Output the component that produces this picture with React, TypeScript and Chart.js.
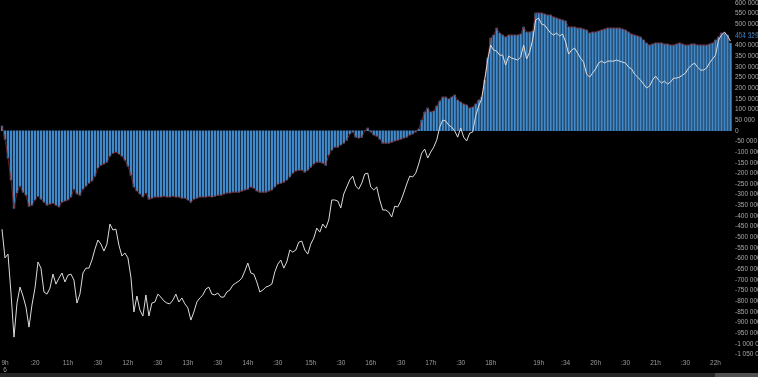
import React, { useEffect, useRef } from 'react';
import { Chart, registerables } from 'chart.js';
Chart.register(...registerables);

// values in thousands
const BAR_K = [
  22, -39, -128, -231, -363, -292, -260, -288, -302, -354,
  -349, -325, -307, -321, -335, -349, -344, -340, -349, -358,
  -335, -330, -325, -311, -274, -297, -302, -274, -260, -246,
  -236, -213, -175, -161, -156, -147, -119, -105, -100, -109,
  -119, -138, -166, -208, -264, -283, -297, -311, -292, -321,
  -316, -311, -311, -311, -307, -311, -311, -307, -311, -311,
  -316, -316, -325, -335, -321, -316, -311, -311, -311, -307,
  -311, -307, -302, -302, -297, -292, -292, -288, -288, -288,
  -283, -278, -274, -264, -269, -283, -288, -288, -288, -283,
  -278, -264, -250, -246, -241, -231, -217, -199, -189, -185,
  -185, -194, -185, -171, -156, -147, -147, -152, -161, -114,
  -91, -77, -77, -67, -58, -44, -15, -6, -30, -34,
  -30, -1, 13, -6, -20, -25, -39, -58, -58, -58,
  -53, -48, -44, -39, -34, -30, -20, -15, -6, 8,
  50, 88, 107, 88, 92, 116, 139, 158, 158, 149,
  158, 168, 144, 135, 125, 121, 107, 111, 125, 144,
  158, 238, 341, 435, 449, 482, 459, 449, 440, 449,
  449, 449, 449, 454, 487, 463, 463, 468, 553, 553,
  553, 548, 543, 543, 534, 529, 524, 520, 515, 487,
  487, 487, 482, 482, 477, 473, 459, 463, 463, 468,
  473, 477, 482, 482, 482, 482, 482, 477, 473, 463,
  454, 449, 445, 440, 426, 412, 402, 407, 412, 412,
  412, 407, 407, 402, 402, 407, 412, 407, 402, 402,
  407, 407, 402, 402, 402, 402, 407, 412, 426, 440,
  459, 459, 449, 410,
];

const LINE_K = [
  -462, -597, -579, -762, -969, -809, -734, -776, -828, -922,
  -818, -739, -616, -645, -757, -767, -739, -673, -720, -692,
  -668, -710, -678, -673, -701, -809, -767, -668, -645, -645,
  -607, -556, -513, -532, -565, -532, -438, -466, -462, -537,
  -588, -574, -597, -687, -851, -776, -842, -870, -771, -870,
  -809, -804, -767, -781, -799, -809, -813, -795, -767, -804,
  -785, -813, -832, -889, -851, -804, -785, -771, -743, -734,
  -767, -771, -762, -781, -781, -757, -748, -725, -715, -706,
  -692, -659, -621, -668, -673, -710, -757, -748, -734, -729,
  -720, -663, -626, -607, -645, -616, -560, -570, -560, -523,
  -518, -560, -579, -532, -504, -457, -476, -438, -457, -419,
  -325, -325, -330, -363, -297, -264, -231, -213, -260, -274,
  -246, -203, -199, -264, -278, -264, -325, -372, -372, -382,
  -405, -354, -358, -330, -292, -250, -213, -217, -199, -156,
  -105, -86, -128, -100, -77, -44, 17, 50, 46, 27,
  17, -1, -30, 13, -30, -48, -11, -6, 69, 116,
  149, 238, 332, 402, 379, 374, 355, 355, 308, 351,
  341, 337, 332, 346, 402, 337, 369, 426, 520, 529,
  501, 496, 477, 459, 449, 459, 445, 454, 417, 360,
  379, 388, 365, 341, 322, 266, 252, 271, 290, 318,
  327, 318, 327, 327, 327, 332, 327, 322, 318, 299,
  290, 266, 252, 238, 219, 201, 210, 238, 257, 238,
  224, 233, 219, 229, 247, 247, 252, 261, 271, 294,
  308, 318, 299, 285, 285, 294, 318, 337, 355, 426,
  449, 463, 445, 421,
];

const CATEGORIES = BAR_K.map((_, i) => String(i));

const TICK_INDEX = [1, 11, 22, 32, 42, 52, 62, 72, 82, 92, 103, 113, 123, 133, 143, 153, 163, 179, 188, 198, 208, 218, 228, 238];
const TICK_TEXT = ['9h', ':20', '11h', ':30', '12h', ':30', '13h', ':30', '14h', ':30', '15h', ':30', '16h', ':30', '17h', ':30', '18h', '19h', ':34', '20h', ':30', '21h', ':30', '22h'];
const DATE_TEXT = '6';

const LAST_LABEL = '404 329,0';
const LAST_LABEL_AT_K = 449;

const Y_MIN_K = -1067;
const Y_MAX_K = 614;
const Y_STEP_K = 50;

function fmt(vk: number): string {
  const n = Math.round(vk * 1000);
  const s = Math.abs(n).toString().replace(/\B(?=(\d{3})+(?!\d))/g, ' ');
  return (n < 0 ? '-' : '') + s;
}

const FONT = 'Liberation Sans, Arial, sans-serif';

function zeroPad(s: any) {
  s.paddingTop = 0;
  s.paddingBottom = 0;
  s.paddingLeft = 0;
  s.paddingRight = 0;
}

export default function App() {
  const ref = useRef<HTMLCanvasElement | null>(null);

  useEffect(() => {
    const canvas = ref.current;
    if (!canvas) return;

    const lastLabelPlugin = {
      id: 'lastLabel',
      afterDraw(chart: any) {
        const { ctx, chartArea, scales } = chart;
        const y = scales.y.getPixelForValue(LAST_LABEL_AT_K);
        ctx.save();
        ctx.fillStyle = '#000';
        ctx.fillRect(chartArea.right + 1, y - 2.5, 40, 7);
        ctx.fillStyle = '#3a86d4';
        ctx.font = `6.5px ${FONT}`;
        ctx.textBaseline = 'middle';
        ctx.textAlign = 'left';
        ctx.fillText(LAST_LABEL, chartArea.right + 3, y + 1);
        ctx.restore();
      },
    };

    const tickMap: Record<number, any> = {};
    TICK_INDEX.forEach((idx, k) => {
      tickMap[idx] = k === 0 ? [TICK_TEXT[k], DATE_TEXT] : TICK_TEXT[k];
    });

    const chart = new Chart(canvas, {
      type: 'bar',
      data: {
        labels: CATEGORIES,
        datasets: [
          {
            type: 'line',
            data: LINE_K,
            borderColor: '#dcdcdc',
            borderWidth: 1,
            pointRadius: 0,
            tension: 0,
            order: 0,
          } as any,
          {
            type: 'line',
            data: BAR_K,
            borderColor: 'rgba(130,35,35,0.85)',
            borderWidth: 1,
            pointRadius: 0,
            tension: 0,
            order: 1,
          } as any,
          {
            type: 'bar',
            data: BAR_K,
            backgroundColor: '#4289ca',
            borderWidth: 0,
            barThickness: 1.7,
            order: 2,
          } as any,
        ],
      },
      options: {
        responsive: false,
        animation: false,
        layout: { padding: { left: 0.5, right: 0, top: 0, bottom: 0 } },
        plugins: { legend: { display: false }, tooltip: { enabled: false } },
        scales: {
          x: {
            type: 'category',
            offset: true,
            grid: { display: false, drawTicks: false },
            border: { display: false },
            ticks: {
              autoSkip: false,
              maxRotation: 0,
              minRotation: 0,
              padding: 1,
              color: '#9c9c9c',
              font: { size: 6.5, family: FONT },
              callback: (_v: any, i: number) => (tickMap[i] !== undefined ? tickMap[i] : null),
            },
            afterFit: (s: any) => { s.height = 15; zeroPad(s); },
          },
          y: {
            type: 'linear',
            position: 'right',
            min: Y_MIN_K,
            max: Y_MAX_K,
            grid: { display: false, drawTicks: false },
            border: { display: false },
            ticks: {
              autoSkip: false,
              padding: 3,
              color: '#a8a8a8',
              font: { size: 6.5, family: FONT },
              callback: (v: any) => fmt(Number(v)),
            },
            afterBuildTicks: (s: any) => {
              const out: any[] = [];
              for (let v = Math.ceil(Y_MIN_K / Y_STEP_K) * Y_STEP_K; v <= Y_MAX_K; v += Y_STEP_K) out.push({ value: v });
              s.ticks = out;
            },
            afterFit: (s: any) => { s.width = 26; zeroPad(s); },
          },
        },
      },
      plugins: [lastLabelPlugin],
    } as any);

    return () => chart.destroy();
  }, []);

  return (
    <div style={{ position: 'fixed', left: 0, top: 0, width: 758, height: 377, background: '#000', overflow: 'hidden' }}>
      <canvas ref={ref} width={758} height={373} style={{ display: 'block', width: 758, height: 373 }} />
      <div style={{ position: 'absolute', left: 0, top: 373, width: 758, height: 4, background: '#262626' }} />
      <div style={{ position: 'absolute', left: 715, top: 373, width: 43, height: 4, background: '#505050' }} />
    </div>
  );
}
